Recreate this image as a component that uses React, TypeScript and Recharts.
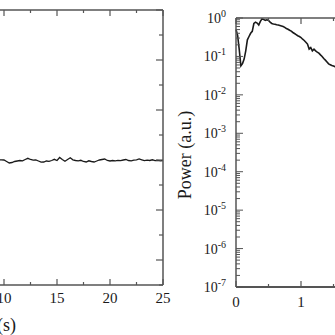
import { LineChart, Line, XAxis, YAxis } from "recharts";

// left panel: time trace (only the right part is inside the picture)
const timeS = [
  0, 0.5, 1, 1.5, 2, 2.5, 3, 3.5, 4, 4.5, 5, 5.5, 6, 6.5, 7, 7.5, 8, 8.5, 9,
  9.25, 9.5, 9.75, 10, 10.25, 10.5, 10.75, 11, 11.25, 11.5, 11.75, 12,
  12.25, 12.5, 12.75, 13, 13.25, 13.5, 13.75, 14, 14.25, 14.5, 14.75, 15,
  15.25, 15.5, 15.75, 16, 16.25, 16.5, 16.75, 17, 17.25, 17.5, 17.75, 18,
  18.25, 18.5, 18.75, 19, 19.25, 19.5, 19.75, 20, 20.25, 20.5, 20.75, 21,
  21.25, 21.5, 21.75, 22, 22.25, 22.5, 22.75, 23, 23.25, 23.5, 23.75, 24,
  24.25, 24.5, 24.75, 25,
];
const signal = [
  0.02, -0.03, 0.05, -0.01, -0.06, 0.03, 0.07, -0.02, -0.05, 0.01, 0.04, -0.03, 0.02, 0.06, -0.04, -0.02, 0.03, -0.01, 0.02,
  0.01, 0, 0.008, 0, -0.06, -0.12, -0.1, -0.06, -0.04, -0.02, -0.032, 0.02,
  0.068, 0.02, -0.008, 0, -0.04, -0.088, -0.08, -0.04, -0.052, -0.02, 0.028, -0.02,
  0.1, 0.02, -0.048, 0.02, 0.088, 0.008, -0.02, -0.032, -0.012, -0.06, -0.08, -0.032,
  -0.06, -0.08, -0.04, 0, 0.02, 0.04, -0.02, -0.04, -0.02, -0.032, -0.012, -0.028,
  0, 0.02, -0.02, -0.032, -0.008, 0.008, 0.04, 0.008, -0.024, -0.008, -0.02, 0.008,
  -0.024, -0.012, -0.032, -0.02,
];
const timeTicks = [0, 2.5, 5, 7.5, 10, 12.5, 15, 17.5, 20, 22.5, 25];
const ampTicks = [-5, -4, -3, -2, -1, 0, 1, 2, 3, 4, 5, 6];

// right panel: power spectrum (log scale)
const freq = [
  0, 0.025, 0.05, 0.075, 0.1, 0.125, 0.15, 0.175, 0.2, 0.225, 0.25, 0.275,
  0.3, 0.325, 0.35, 0.375, 0.4, 0.425, 0.45, 0.475, 0.5, 0.525, 0.55, 0.575,
  0.6, 0.625, 0.65, 0.675, 0.7, 0.725, 0.75, 0.775, 0.8, 0.825, 0.85, 0.875,
  0.9, 0.925, 0.95, 0.975, 1, 1.025, 1.05, 1.075, 1.1, 1.125, 1.15, 1.175,
  1.2, 1.225, 1.25, 1.275, 1.3, 1.325, 1.35, 1.375, 1.4, 1.425, 1.45, 1.475,
  1.5, 1.525, 1.55, 1.6, 1.65, 1.7, 1.75, 1.8, 1.85, 1.9, 1.95, 2,
];
const power = [
  0.5, 0.35, 0.15, 0.057, 0.065, 0.085, 0.14, 0.27, 0.33, 0.4, 0.45, 0.72,
  0.78, 0.74, 0.66, 0.82, 0.95, 0.92, 0.87, 0.9, 0.86, 0.78, 0.72, 0.7,
  0.69, 0.67, 0.66, 0.64, 0.62, 0.6, 0.57, 0.53, 0.51, 0.48, 0.455, 0.42,
  0.395, 0.37, 0.345, 0.33, 0.31, 0.28, 0.26, 0.235, 0.21, 0.155, 0.17, 0.14,
  0.155, 0.14, 0.13, 0.122, 0.11, 0.1, 0.088, 0.08, 0.072, 0.064, 0.061, 0.058,
  0.056, 0.054, 0.05, 0.044, 0.038, 0.033, 0.029, 0.025, 0.021, 0.018, 0.016, 0.014,
];
const freqTicks = [0, 0.5, 1, 1.5, 2];
const decades = [-7, -6, -5, -4, -3, -2, -1, 0];
const multipliers = [1, 2, 3, 4, 5, 6, 7, 8, 9];

const traceData = timeS.map((t, i) => ({ t, v: signal[i] }));
const spectrumData = freq.map((f, i) => ({ f, p: power[i] }));
const powerTicks: number[] = [];
decades.forEach((d) => {
  multipliers.forEach((m) => {
    if (d === 0 && m > 1) return;
    powerTicks.push(m * Math.pow(10, d));
  });
});

const FONT = "'Liberation Serif', 'Times New Roman', serif";
const AXIS = "#555";
const INK = "#1a1a1a";

const isDecade = (v: number) => Math.abs(Math.log10(v) - Math.round(Math.log10(v))) < 1e-6;

// ticks point into the plot, labels only on the major ones
const TimeTickBottom = (props: any) => {
  const { x, y, payload } = props;
  const major = payload.value % 5 === 0;
  return (
    <g>
      <line x1={x} y1={y} x2={x} y2={y - (major ? 6 : 3)} stroke={AXIS} strokeWidth={1.2} />
      {major && (
        <text x={x} y={y + 18} textAnchor="middle" fontSize={15} fontFamily={FONT} fill={INK}>
          {payload.value}
        </text>
      )}
    </g>
  );
};
const TimeTickTop = (props: any) => {
  const { x, y, payload } = props;
  const major = payload.value % 5 === 0;
  return <line x1={x} y1={y} x2={x} y2={y + (major ? 6 : 3)} stroke={AXIS} strokeWidth={1.2} />;
};
const AmpTickLeft = (props: any) => {
  const { x, y, payload } = props;
  const major = payload.value % 2 === 0;
  return (
    <g>
      <line x1={x} y1={y} x2={x + (major ? 7 : 4)} y2={y} stroke={AXIS} strokeWidth={1.2} />
      {major && (
        <text x={x - 6} y={y + 5} textAnchor="end" fontSize={15} fontFamily={FONT} fill={INK}>
          {payload.value}
        </text>
      )}
    </g>
  );
};
const AmpTickRight = (props: any) => {
  const { x, y, payload } = props;
  const major = payload.value % 2 === 0;
  return <line x1={x} y1={y} x2={x - (major ? 7 : 4)} y2={y} stroke={AXIS} strokeWidth={1.2} />;
};

const FreqTickBottom = (props: any) => {
  const { x, y, payload } = props;
  const major = payload.value % 1 === 0;
  return (
    <g>
      <line x1={x} y1={y} x2={x} y2={y - (major ? 6 : 3)} stroke={AXIS} strokeWidth={1.2} />
      {major && (
        <text x={x} y={y + 20} textAnchor="middle" fontSize={15} fontFamily={FONT} fill={INK}>
          {payload.value}
        </text>
      )}
    </g>
  );
};
const FreqTickTop = (props: any) => {
  const { x, y, payload } = props;
  const major = payload.value % 1 === 0;
  return <line x1={x} y1={y} x2={x} y2={y + (major ? 6 : 3)} stroke={AXIS} strokeWidth={1.2} />;
};
const PowerTickLeft = (props: any) => {
  const { x, y, payload } = props;
  const major = isDecade(payload.value);
  const exp = Math.round(Math.log10(payload.value));
  return (
    <g>
      <line x1={x} y1={y} x2={x + (major ? 7 : 4)} y2={y} stroke={AXIS} strokeWidth={1} />
      {major && (
        <text x={x - 10} y={y + 5} textAnchor="end" fontSize={14} fontFamily={FONT} fill={INK}>
          <tspan>10</tspan>
          <tspan dy={-6} fontSize={10}>{exp}</tspan>
        </text>
      )}
    </g>
  );
};
const PowerTickRight = (props: any) => {
  const { x, y, payload } = props;
  const major = isDecade(payload.value);
  return <line x1={x} y1={y} x2={x - (major ? 7 : 4)} y2={y} stroke={AXIS} strokeWidth={1} />;
};

export default function App() {
  return (
    <div style={{ position: "absolute", left: 0, top: 0, width: 335, height: 335, overflow: "hidden", background: "#fff" }}>
      <div style={{ position: "absolute", left: -160, top: 0 }}>
        <LineChart width={338} height={335} data={traceData} margin={{ top: 5, right: 5, bottom: 10, left: 8 }}>
          <XAxis dataKey="t" type="number" domain={[0, 25]} ticks={timeTicks} interval={0} height={40}
            stroke={AXIS} strokeWidth={1.5} tickSize={0} tickMargin={0} tickLine={false} tick={TimeTickBottom} />
          <XAxis xAxisId="top" dataKey="t" orientation="top" type="number" domain={[0, 25]} ticks={timeTicks} interval={0} height={5}
            stroke={AXIS} strokeWidth={1.5} tickSize={0} tickMargin={0} tickLine={false} tick={TimeTickTop} />
          <YAxis type="number" domain={[-5, 6]} ticks={ampTicks} interval={0} width={50}
            stroke={AXIS} strokeWidth={1.5} tickSize={0} tickMargin={0} tickLine={false} tick={AmpTickLeft} />
          <YAxis yAxisId="right" orientation="right" type="number" domain={[-5, 6]} ticks={ampTicks} interval={0} width={10}
            stroke={AXIS} strokeWidth={1.5} tickSize={0} tickMargin={0} tickLine={false} tick={AmpTickRight} />
          {/* invisible copy so the top and right frame axes get a scale */}
          <Line xAxisId="top" yAxisId="right" type="linear" dataKey="v" stroke="none" dot={false} activeDot={false} isAnimationActive={false} />
          <Line type="linear" dataKey="v" stroke={INK} strokeWidth={1.3} dot={false} isAnimationActive={false} />
        </LineChart>
      </div>
      <div style={{ position: "absolute", left: 170, top: 0 }}>
        <LineChart width={211} height={335} data={spectrumData} margin={{ top: 13, right: 5, bottom: 10, left: 6 }}>
          <XAxis dataKey="f" type="number" domain={[0, 2]} ticks={freqTicks} interval={0} height={38}
            stroke={AXIS} strokeWidth={1.8} tickSize={0} tickMargin={0} tickLine={false} tick={FreqTickBottom} />
          <XAxis xAxisId="top" dataKey="f" orientation="top" type="number" domain={[0, 2]} ticks={freqTicks} interval={0} height={5}
            stroke={AXIS} strokeWidth={1.5} tickSize={0} tickMargin={0} tickLine={false} tick={FreqTickTop} />
          <YAxis type="number" scale="log" domain={[1e-7, 1]} allowDataOverflow ticks={powerTicks} interval={0} width={60}
            stroke={AXIS} strokeWidth={1.5} tickSize={0} tickMargin={0} tickLine={false} tick={PowerTickLeft} />
          <YAxis yAxisId="right" orientation="right" type="number" scale="log" domain={[1e-7, 1]} allowDataOverflow
            ticks={powerTicks} interval={0} width={10}
            stroke={AXIS} strokeWidth={1.5} tickSize={0} tickMargin={0} tickLine={false} tick={PowerTickRight} />
          <Line xAxisId="top" yAxisId="right" type="linear" dataKey="p" stroke="none" dot={false} activeDot={false} isAnimationActive={false} />
          <Line type="linear" dataKey="p" stroke={INK} strokeWidth={1.6} dot={false} isAnimationActive={false} />
        </LineChart>
      </div>
      <svg width={335} height={335} style={{ position: "absolute", left: 0, top: 0, pointerEvents: "none" }}>
        <text x={16} y={331} textAnchor="end" fontSize={18} fontFamily={FONT} fill={INK}>
          Time (s)
        </text>
        <text x={191} y={155} transform="rotate(-90, 191, 155)" textAnchor="middle" fontSize={18} fontFamily={FONT} fill={INK}>
          Power (a.u.)
        </text>
      </svg>
    </div>
  );
}
